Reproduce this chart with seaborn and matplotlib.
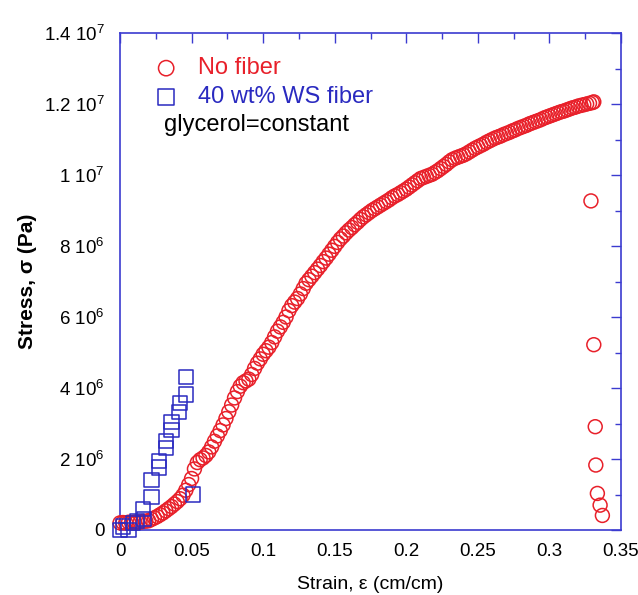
import numpy as np
import pandas as pd
import matplotlib
matplotlib.use("Agg")
import matplotlib.pyplot as plt
import seaborn as sns
from matplotlib.ticker import MultipleLocator

# ---------------- data ----------------
# No fiber: strain sampled every 0.002, stress in units of 1e6 Pa
nofiber_strain = [round(0.002 * i, 3) for i in range(166)]
nofiber_stress_e6 = [
    0.20, 0.21, 0.20, 0.22, 0.21, 0.22, 0.23, 0.22, 0.24, 0.25,
    0.26, 0.30, 0.34, 0.38, 0.43, 0.48, 0.54, 0.60, 0.66, 0.73,
    0.80, 0.88, 0.98, 1.12, 1.28, 1.45, 1.72, 1.90, 1.98, 2.03,
    2.10, 2.20, 2.34, 2.50, 2.65, 2.80, 2.96, 3.14, 3.33, 3.52,
    3.72, 3.90, 4.05, 4.15, 4.20, 4.25, 4.38, 4.55, 4.70, 4.82,
    4.95, 5.05, 5.15, 5.28, 5.44, 5.60, 5.72, 5.85, 6.00, 6.18,
    6.32, 6.42, 6.52, 6.65, 6.80, 6.95, 7.05, 7.15, 7.25, 7.35,
    7.45, 7.56, 7.66, 7.77, 7.88, 7.99, 8.10, 8.20, 8.28, 8.37,
    8.45, 8.52, 8.60, 8.67, 8.75, 8.82, 8.88, 8.94, 9.00, 9.05,
    9.10, 9.15, 9.20, 9.25, 9.30, 9.36, 9.41, 9.45, 9.50, 9.55,
    9.60, 9.66, 9.72, 9.78, 9.84, 9.90, 9.93, 9.96, 9.99, 10.02,
    10.07, 10.12, 10.18, 10.24, 10.30, 10.37, 10.43, 10.47, 10.50, 10.53,
    10.56, 10.60, 10.65, 10.70, 10.75, 10.79, 10.83, 10.87, 10.92, 10.96,
    11.00, 11.04, 11.07, 11.10, 11.14, 11.17, 11.20, 11.24, 11.27, 11.31,
    11.34, 11.37, 11.40, 11.44, 11.47, 11.50, 11.53, 11.56, 11.60, 11.63,
    11.66, 11.69, 11.72, 11.75, 11.78, 11.80, 11.83, 11.86, 11.89, 11.91,
    11.94, 11.96, 11.98, 12.00, 12.02, 12.04,
]
# failure (drop) points of the no-fiber sample
drop_strain = [0.331, 0.329, 0.331, 0.332, 0.3324, 0.3335, 0.3354, 0.337]
drop_stress_e6 = [12.06, 9.27, 5.22, 2.91, 1.83, 1.03, 0.70, 0.41]

# 40 wt% WS fiber
ws_strain = [0.000, 0.002, 0.006, 0.009, 0.012, 0.016, 0.017, 0.022, 0.022, 0.027,
             0.027, 0.032, 0.032, 0.036, 0.036, 0.041, 0.042, 0.046, 0.046, 0.051]
ws_stress_e6 = [0.00, 0.10, 0.00, 0.20, 0.25, 0.60, 0.30, 0.93, 1.40, 1.76,
                1.95, 2.30, 2.50, 2.82, 3.05, 3.33, 3.57, 3.82, 4.32, 1.00]

series_labels = ["No fiber", "40 wt% WS fiber"]
note_text = "glycerol=constant"

x_ticks = [0, 0.05, 0.1, 0.15, 0.2, 0.25, 0.3, 0.35]
x_ticklabels = ["0", "0.05", "0.1", "0.15", "0.2", "0.25", "0.3", "0.35"]
y_ticks = [0, 2e6, 4e6, 6e6, 8e6, 1e7, 1.2e7, 1.4e7]
y_ticklabels = ["0", "2 10$^{6}$", "4 10$^{6}$", "6 10$^{6}$", "8 10$^{6}$",
                "1 10$^{7}$", "1.2 10$^{7}$", "1.4 10$^{7}$"]
x_label = "Strain, ε (cm/cm)"
y_label = "Stress, σ (Pa)"

# ---------------- styling ----------------
sns.set_theme(style="white")
plt.rcParams["font.family"] = ["Liberation Sans", "DejaVu Sans"]
plt.rcParams["mathtext.default"] = "regular"

RED = "#e8202a"
BLUE = "#2a2ac0"
AXBLUE = "#3b3bd0"

nofiber = pd.DataFrame({
    "strain": nofiber_strain + drop_strain,
    "stress": [v * 1e6 for v in nofiber_stress_e6 + drop_stress_e6],
})
ws = pd.DataFrame({"strain": ws_strain, "stress": [v * 1e6 for v in ws_stress_e6]})

fig = plt.figure(figsize=(6.38, 5.95), dpi=100)
ax = fig.add_axes([120 / 638, 1 - 530 / 595, 501 / 638, 497 / 595])

sns.scatterplot(data=nofiber, x="strain", y="stress", ax=ax, marker="o", s=100,
                color=RED, facecolor="none", edgecolor=RED, linewidth=1.1,
                label=series_labels[0], clip_on=False, zorder=3)
sns.scatterplot(data=ws, x="strain", y="stress", ax=ax, marker="s", s=105,
                color=BLUE, facecolor="none", edgecolor=BLUE, linewidth=1.1,
                label=series_labels[1], clip_on=False, zorder=4)

ax.set_xlim(0, 0.35)
ax.set_ylim(0, 1.4e7)
ax.set_xticks(x_ticks)
ax.set_xticklabels(x_ticklabels)
ax.set_yticks(y_ticks)
ax.set_yticklabels(y_ticklabels)
ax.xaxis.set_minor_locator(MultipleLocator(0.025))
ax.yaxis.set_minor_locator(MultipleLocator(1e6))

ax.tick_params(which="both", direction="in", top=True, right=True,
               color=AXBLUE, width=1.0, labelsize=13.5, labelcolor="black")
ax.tick_params(which="major", length=7)
ax.tick_params(which="minor", length=4)
ax.tick_params(axis="y", which="major", pad=11)
ax.tick_params(axis="x", which="major", pad=9)
for sp in ax.spines.values():
    sp.set_color(AXBLUE)
    sp.set_linewidth(1.2)

ax.set_xlabel(x_label, fontsize=14, color="black", labelpad=12)
ax.set_ylabel(y_label, fontsize=15, fontweight="bold", color="black", labelpad=5)

leg = ax.legend(loc="upper left", bbox_to_anchor=(0.045, 0.97), frameon=False,
                fontsize=17, labelcolor=[RED, BLUE], handletextpad=0.75,
                borderaxespad=0, labelspacing=0.3, handlelength=1.2,
                markerscale=1.1)
ax.text(0.087, 0.815, note_text, transform=ax.transAxes, fontsize=17,
        color="black", va="center", ha="left")

ax.grid(False)
fig.savefig("out.png", dpi=100, facecolor="white")
